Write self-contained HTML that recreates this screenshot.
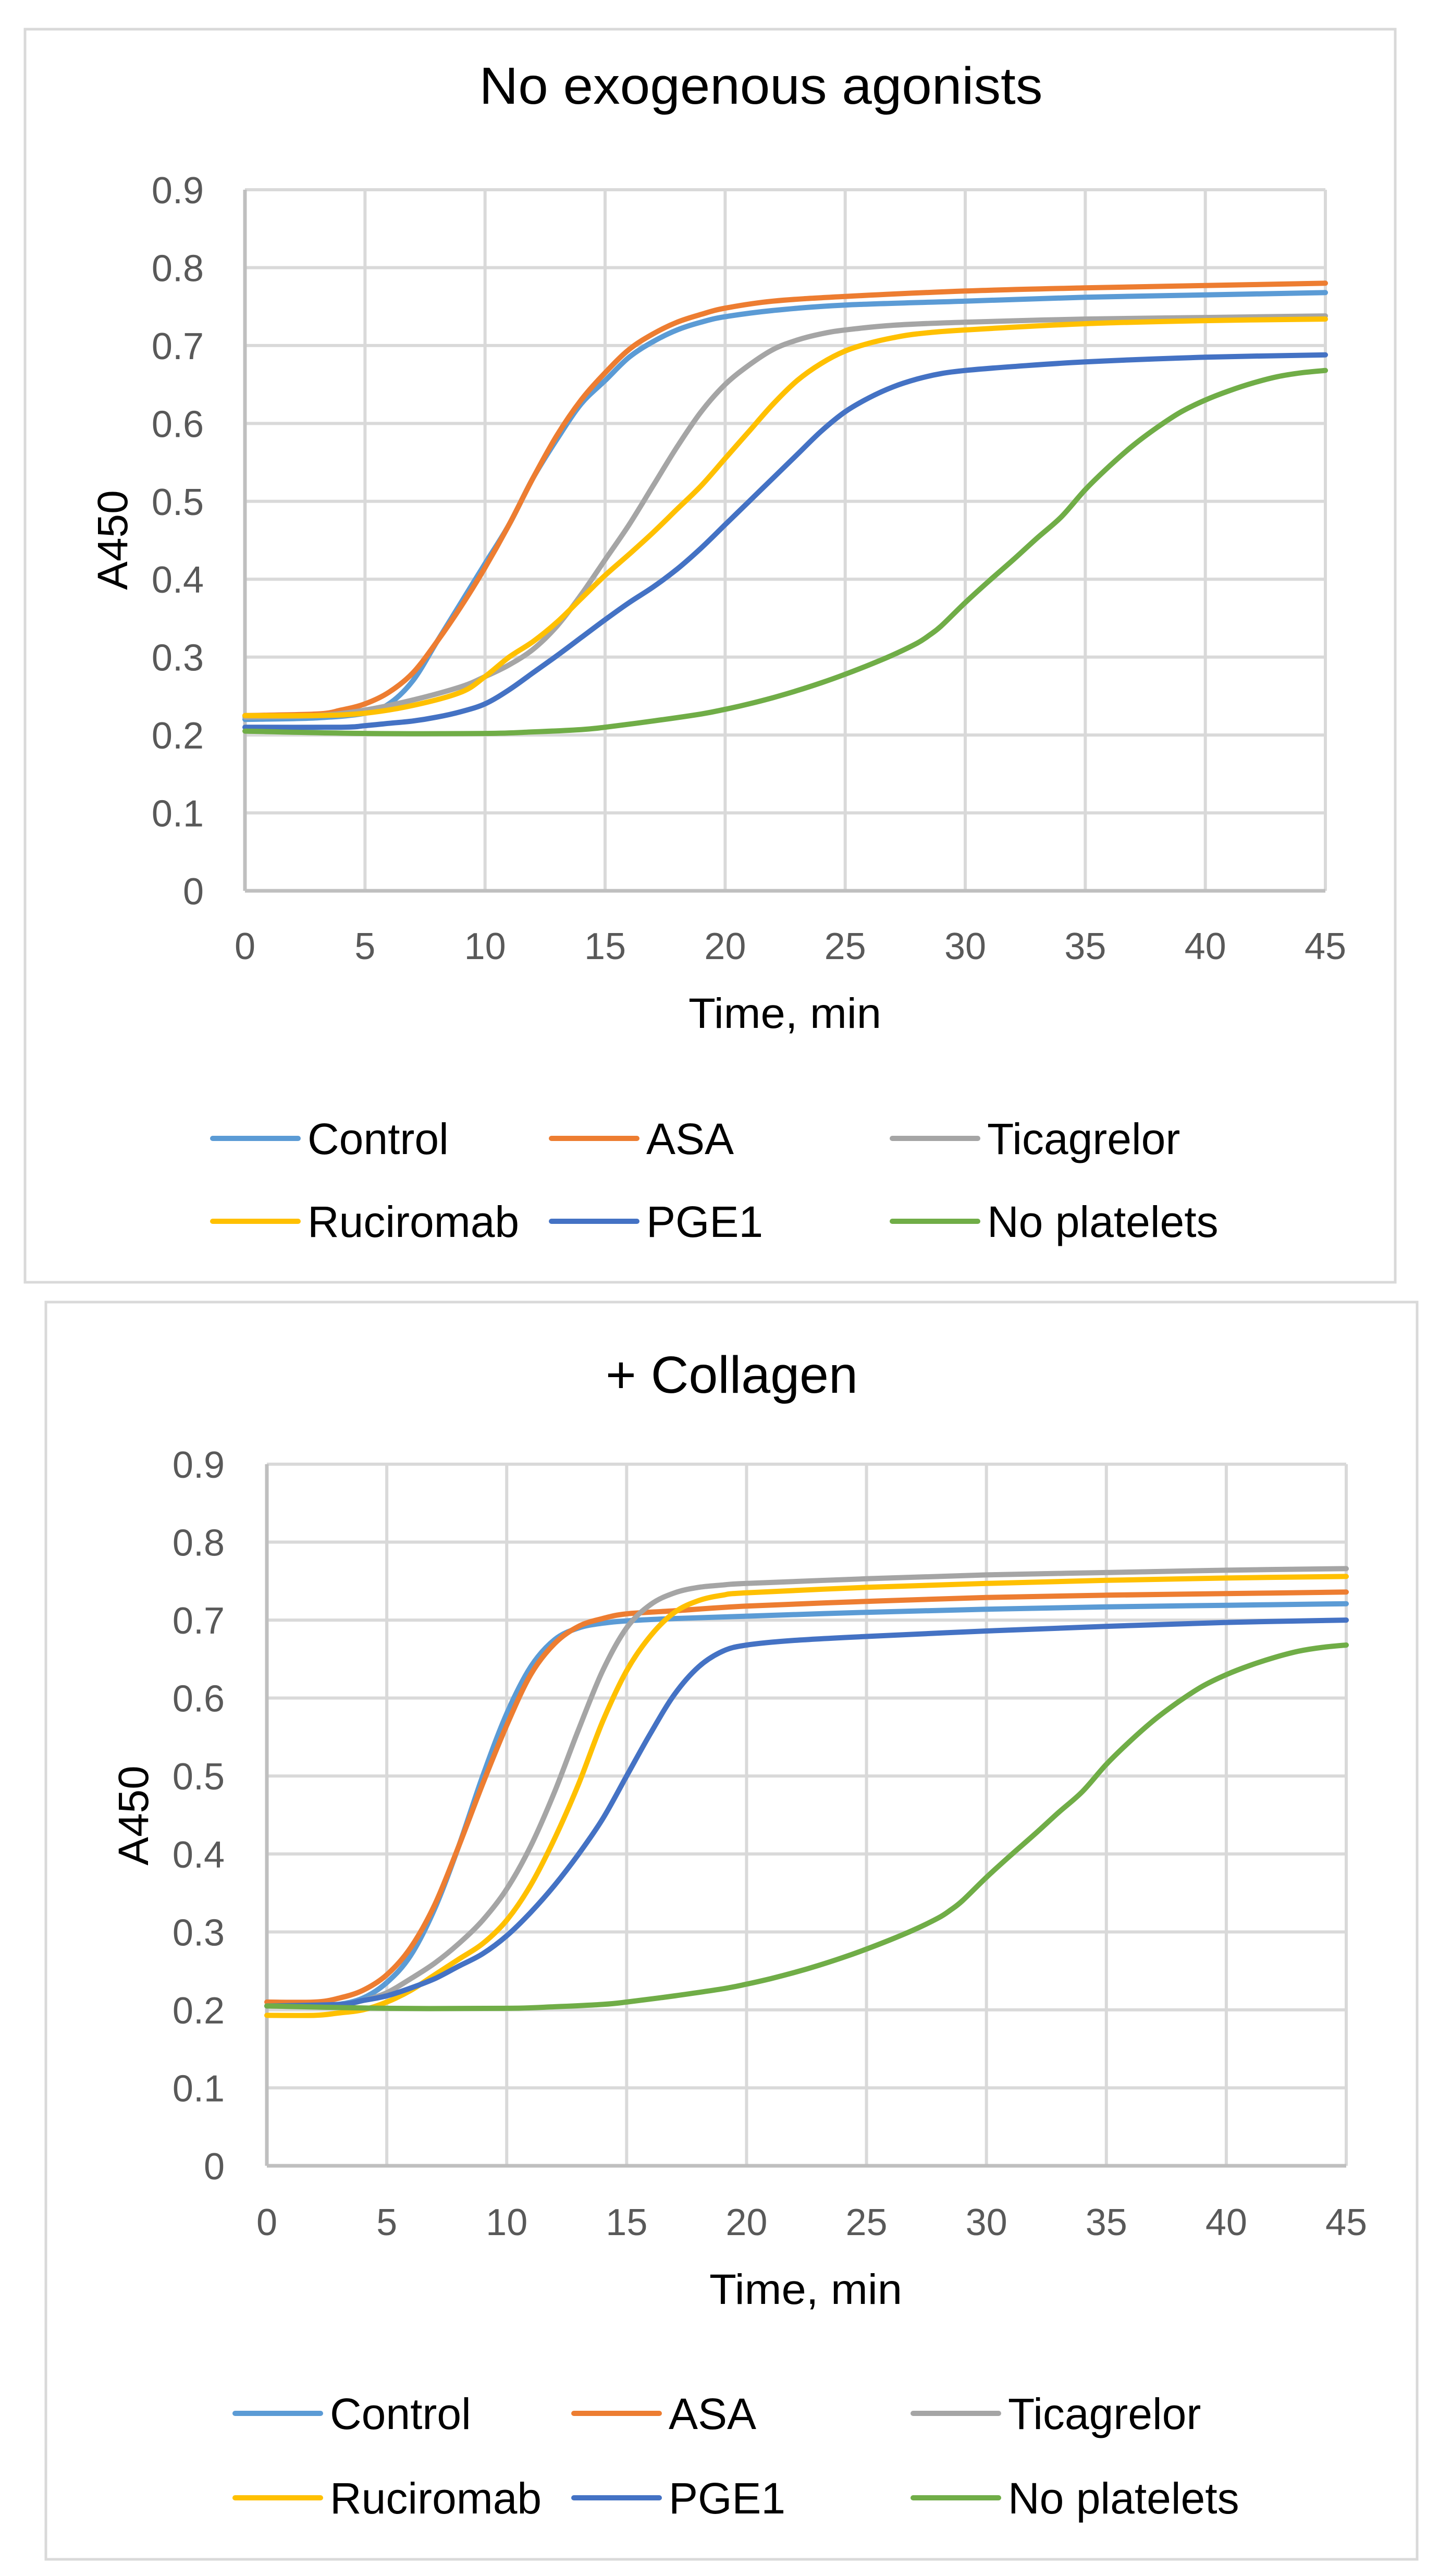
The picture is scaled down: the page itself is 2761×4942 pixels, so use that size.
<!DOCTYPE html>
<html><head><meta charset="utf-8"><style>
html,body{margin:0;padding:0;background:#fff}
svg{display:block}
text{font-family:"Liberation Sans",sans-serif}
</style></head>
<body>
<svg id="root" xmlns="http://www.w3.org/2000/svg" width="2761" height="4942" viewBox="0 0 2761 4942">
<rect x="0" y="0" width="2761" height="4942" fill="#fff"/>
<g id="chart1"></g>
<g id="chart2"></g>
</svg>
<script>
// ---- shared ticks ----
const xTickLabels = ["0","5","10","15","20","25","30","35","40","45"];
const xTickValues = [0,5,10,15,20,25,30,35,40,45];
const yTickLabels = ["0","0.1","0.2","0.3","0.4","0.5","0.6","0.7","0.8","0.9"];
const yTickValues = [0,0.1,0.2,0.3,0.4,0.5,0.6,0.7,0.8,0.9];
const seriesNames = ["Control","ASA","Ticagrelor","Ruciromab","PGE1","No platelets"];

// ---- chart 1: No exogenous agonists ----
const c1ControlT = [0,3,5,6,7,8,9,10,11,12,13,14,15,16,17,18,19,20,22,25,30,35,40,45];
const c1ControlV = [0.22,0.222,0.228,0.24,0.27,0.32,0.37,0.42,0.47,0.53,0.58,0.625,0.655,0.685,0.705,0.72,0.73,0.737,0.745,0.752,0.757,0.762,0.765,0.768];
const c1AsaT = [0,3,4,5,6,7,8,9,10,11,12,13,14,15,16,17,18,19,20,22,25,30,35,40,45];
const c1AsaV = [0.225,0.227,0.232,0.24,0.255,0.28,0.32,0.365,0.415,0.47,0.53,0.585,0.63,0.665,0.695,0.715,0.73,0.74,0.748,0.757,0.763,0.77,0.774,0.777,0.78];
const c1TicT = [0,3,5,7,9,10,11,12,13,14,15,16,17,18,19,20,21,22,23,24,25,27,30,35,40,45];
const c1TicV = [0.223,0.225,0.232,0.245,0.262,0.275,0.29,0.31,0.34,0.38,0.425,0.47,0.52,0.57,0.615,0.65,0.675,0.695,0.707,0.715,0.72,0.726,0.73,0.734,0.736,0.738];
const c1RucT = [0,3,5,7,9,10,11,12,13,14,15,16,17,18,19,20,21,22,23,24,25,26,27,28,30,35,40,45];
const c1RucV = [0.225,0.225,0.228,0.238,0.255,0.275,0.3,0.32,0.345,0.375,0.405,0.432,0.46,0.49,0.52,0.555,0.59,0.625,0.655,0.677,0.693,0.703,0.71,0.715,0.72,0.728,0.732,0.734];
const c1PgeT = [0,4,5,6,7,8,9,10,11,12,13,14,15,16,17,18,19,20,21,22,23,24,25,26,27,28,29,30,32,35,40,45];
const c1PgeV = [0.21,0.21,0.212,0.215,0.218,0.223,0.23,0.24,0.258,0.28,0.302,0.325,0.348,0.37,0.39,0.413,0.44,0.47,0.5,0.53,0.56,0.59,0.615,0.633,0.647,0.657,0.664,0.668,0.673,0.679,0.685,0.688];
const c1NopT = [0,5,10,12,14,15,17,19,20,21,22,23,24,25,26,27,28,28.5,29,30,31,32,33,34,35,36,37,38,39,40,41,42,43,44,45];
const c1NopV = [0.205,0.202,0.202,0.204,0.207,0.21,0.218,0.227,0.233,0.24,0.248,0.257,0.267,0.278,0.29,0.303,0.318,0.328,0.34,0.37,0.398,0.425,0.453,0.48,0.515,0.545,0.572,0.595,0.615,0.63,0.642,0.652,0.66,0.665,0.668];

// ---- chart 2: + Collagen ----
const c2ControlT = [0,2,3,4,5,6,7,8,9,10,11,12,13,14,15,17,20,25,30,35,40,45];
const c2ControlV = [0.205,0.205,0.207,0.215,0.235,0.27,0.33,0.41,0.5,0.58,0.64,0.675,0.69,0.696,0.699,0.702,0.705,0.71,0.714,0.717,0.719,0.721];
const c2AsaT = [0,2,3,4,5,6,7,8,9,10,11,12,13,14,15,17,20,25,30,35,40,45];
const c2AsaV = [0.21,0.21,0.215,0.225,0.245,0.28,0.335,0.41,0.49,0.565,0.63,0.67,0.692,0.702,0.708,0.712,0.718,0.724,0.729,0.732,0.734,0.736];
const c2TicT = [0,3,4,5,6,7,8,9,10,11,12,13,14,15,16,17,18,19,20,25,30,35,40,45];
const c2TicV = [0.205,0.207,0.212,0.222,0.24,0.26,0.285,0.315,0.355,0.41,0.48,0.56,0.635,0.69,0.72,0.735,0.742,0.745,0.747,0.753,0.758,0.761,0.764,0.766];
const c2RucT = [0,2,3,4,5,6,7,8,9,10,11,12,13,14,15,16,17,18,19,20,25,30,35,40,45];
const c2RucV = [0.193,0.193,0.196,0.2,0.21,0.225,0.245,0.265,0.285,0.315,0.36,0.42,0.49,0.57,0.635,0.68,0.71,0.725,0.732,0.735,0.742,0.747,0.751,0.754,0.756];
const c2PgeT = [0,3,4,5,6,7,8,9,10,11,12,13,14,15,16,17,18,19,20,22,25,30,35,40,45];
const c2PgeV = [0.205,0.207,0.212,0.218,0.228,0.24,0.256,0.272,0.295,0.325,0.36,0.4,0.445,0.5,0.555,0.605,0.64,0.66,0.668,0.674,0.679,0.686,0.692,0.697,0.7];
const c2NopT = [0,5,10,12,14,15,17,19,20,21,22,23,24,25,26,27,28,28.5,29,30,31,32,33,34,35,36,37,38,39,40,41,42,43,44,45];
const c2NopV = [0.205,0.202,0.202,0.204,0.207,0.21,0.218,0.227,0.233,0.24,0.248,0.257,0.267,0.278,0.29,0.303,0.318,0.328,0.34,0.37,0.398,0.425,0.453,0.48,0.515,0.545,0.572,0.595,0.615,0.63,0.642,0.652,0.66,0.665,0.668];

const colors = ["#5b9bd5","#ed7d31","#a5a5a5","#ffc000","#4472c4","#70ad47"];
const NS = "http://www.w3.org/2000/svg";

function mk(parent, tag, attrs, txt){
  const e = document.createElementNS(NS, tag);
  for (const k in attrs) e.setAttribute(k, attrs[k]);
  if (txt !== undefined) e.textContent = txt;
  parent.appendChild(e);
  return e;
}

function smoothPath(pts){
  let d = "M" + pts[0][0].toFixed(1) + "," + pts[0][1].toFixed(1);
  for (let i = 0; i < pts.length - 1; i++){
    const p0 = pts[i-1] || pts[i], p1 = pts[i], p2 = pts[i+1], p3 = pts[i+2] || p2;
    const c1x = p1[0] + (p2[0]-p0[0])/6, c1y = p1[1] + (p2[1]-p0[1])/6;
    const c2x = p2[0] - (p3[0]-p1[0])/6, c2y = p2[1] - (p3[1]-p1[1])/6;
    d += " C" + c1x.toFixed(1) + "," + c1y.toFixed(1) + " " + c2x.toFixed(1) + "," + c2y.toFixed(1) + " " + p2[0].toFixed(1) + "," + p2[1].toFixed(1);
  }
  return d;
}

function drawChart(g, cfg, series){
  const xs = v => cfg.x0 + (cfg.x1 - cfg.x0) * v / 45;
  const ys = v => cfg.y0 + (cfg.y9 - cfg.y0) * v / 0.9;
  const frame = mk(g, "rect", {x:cfg.fx, y:cfg.fy, width:cfg.fw, height:cfg.fh, fill:"#fff", stroke:"#d9d9d9", "stroke-width":5});
  
  
  const title = mk(g, "text", {x:cfg.titleX, y:cfg.titleY, "text-anchor":"middle", "font-size":100, fill:"#000", textLength:cfg.titleW, lengthAdjust:"spacingAndGlyphs"}, cfg.title);
  
  
  // gridlines
  yTickValues.forEach((v, i) => {
    if (v > 0){
      const l = mk(g, "line", {x1:xs(0), x2:xs(45), y1:ys(v), y2:ys(v), stroke:"#d9d9d9", "stroke-width":6});
      
      
    }
    const t = mk(g, "text", {x:cfg.yLabX, y:ys(v)+26, "text-anchor":"end", "font-size":72, fill:"#595959"}, yTickLabels[i]);
    
    
  });
  xTickValues.forEach((v, i) => {
    if (v > 0){
      const l = mk(g, "line", {x1:xs(v), x2:xs(v), y1:ys(0), y2:ys(0.9), stroke:"#d9d9d9", "stroke-width":6});
      
      
    }
    const t = mk(g, "text", {x:xs(v), y:cfg.xLabY, "text-anchor":"middle", "font-size":72, fill:"#595959"}, xTickLabels[i]);
    
    
  });
  const ax = mk(g, "line", {x1:xs(0), x2:xs(0), y1:ys(0), y2:ys(0.9), stroke:"#bfbfbf", "stroke-width":7});
  
  
  const bx = mk(g, "line", {x1:xs(0), x2:xs(45), y1:ys(0), y2:ys(0), stroke:"#bfbfbf", "stroke-width":7});
  
  
  const xt = mk(g, "text", {x:cfg.xTitleX, y:cfg.xTitleY, "text-anchor":"middle", "font-size":82, fill:"#000", textLength:370, lengthAdjust:"spacingAndGlyphs"}, "Time, min");
  
  
  const yt = mk(g, "text", {x:0, y:0, "text-anchor":"middle", "font-size":82, fill:"#000", transform:"translate(" + (cfg.yTitleX+29) + "," + cfg.yTitleY + ") rotate(-90)"}, "A450");
  
  
  // series
  series.forEach((s, i) => {
    const pts = s.t.map((t, j) => [xs(t), ys(s.v[j])]);
    const p = mk(g, "path", {d:smoothPath(pts), fill:"none", stroke:colors[i], "stroke-width":10, "stroke-linejoin":"round", "stroke-linecap":"round"});
    
    
  });
  // legend
  series.forEach((s, i) => {
    const col = i % 3, row = Math.floor(i / 3);
    const lx = cfg.legX[col], ly = cfg.legY[row];
    const lg = mk(g, "g", {});
    
    
    mk(lg, "line", {x1:lx, x2:lx+164, y1:ly, y2:ly, stroke:colors[i], "stroke-width":10, "stroke-linecap":"round"});
    mk(lg, "text", {x:lx+182, y:ly+30, "font-size":84, fill:"#000"}, seriesNames[i]);
  });
}

drawChart(document.getElementById("chart1"), {
  fx:48, fy:56, fw:2629, fh:2404,
  x0:470, x1:2543, y0:1709, y9:364,
  title:"No exogenous agonists", titleX:1460, titleY:199, titleW:1081,
  yLabX:391, xLabY:1840, xTitleX:1506, xTitleY:1972, yTitleX:215, yTitleY:1036,
  legX:[408,1058,1712], legY:[2184,2343]
}, [
  {t:c1ControlT, v:c1ControlV},{t:c1AsaT, v:c1AsaV},{t:c1TicT, v:c1TicV},
  {t:c1RucT, v:c1RucV},{t:c1PgeT, v:c1PgeV},{t:c1NopT, v:c1NopV}
]);

drawChart(document.getElementById("chart2"), {
  fx:88, fy:2498, fw:2631, fh:2412,
  x0:512, x1:2583, y0:4155, y9:2809,
  title:"+ Collagen", titleX:1404, titleY:2672, titleW:484,
  yLabX:431, xLabY:4288, xTitleX:1546, xTitleY:4420, yTitleX:255, yTitleY:3483,
  legX:[451,1101,1752], legY:[4630,4792]
}, [
  {t:c2ControlT, v:c2ControlV},{t:c2AsaT, v:c2AsaV},{t:c2TicT, v:c2TicV},
  {t:c2RucT, v:c2RucV},{t:c2PgeT, v:c2PgeV},{t:c2NopT, v:c2NopV}
]);
</script>
</body></html>
